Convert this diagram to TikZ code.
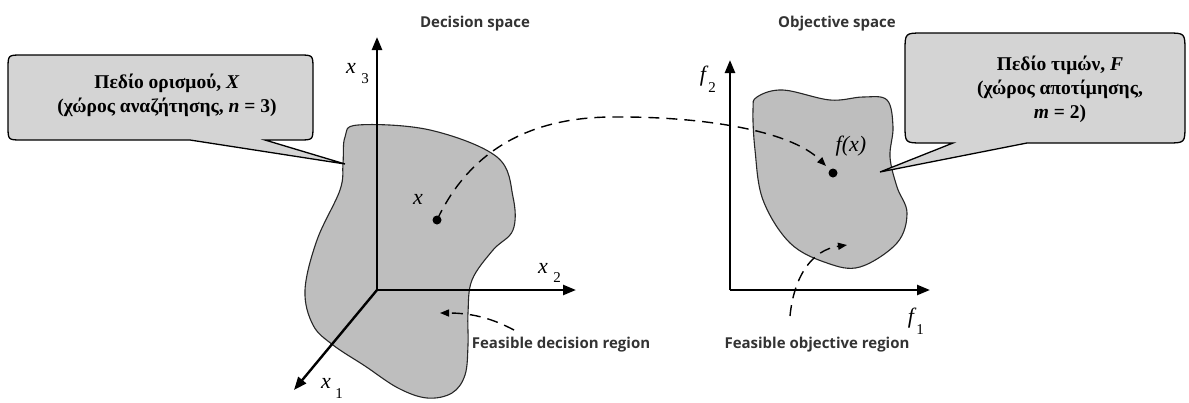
\documentclass[tikz,border=0pt]{standalone}
\usepackage{fontspec}
\setmainfont{Liberation Serif}
\newfontfamily\labfont{Open Sans}
\usetikzlibrary{arrows.meta}
\definecolor{blobgray}{HTML}{BEBEBE}
\definecolor{callgray}{HTML}{D4D4D4}
\definecolor{labgray}{HTML}{333333}
\begin{document}
\begin{tikzpicture}[x=1pt,y=-1pt,
 axis/.style={line width=2.4pt,-{Triangle[length=13pt,width=10pt]}},
 blob/.style={draw=black!85,line width=1.1pt,fill=blobgray},
 callout/.style={draw=black,line width=1.3pt,fill=callgray},
 dashline/.style={line width=1.4pt,dash pattern=on 11pt off 7pt,-{Triangle[length=9pt,width=7pt]}},
 ctext/.style={font=\fontsize{19.5}{24}\selectfont\bfseries,align=center},
 lab/.style={font=\labfont\bfseries\fontsize{15}{17}\selectfont,text=labgray},
 mlab/.style={font=\fontsize{22}{24}\selectfont\itshape,inner sep=0pt},
 sub/.style={font=\fontsize{15}{16}\selectfont,inner sep=0pt}]
\useasboundingbox (0,0) rectangle (1189,402);

% decision region
\draw[blob] plot[smooth cycle,tension=0.6] coordinates {(345,137) (358,125) (430,130) (497,157) (513,197) (513,230) (493,250) (472,280) (468,313) (468,345) (465,375) (452,393) (427,398) (398,388) (365,366) (333,345) (313,325) (305,290) (317,240) (340,190) (343,163)};
% objective region
\draw[blob] plot[smooth cycle,tension=0.6] coordinates {(757,97) (783,90) (830,100) (863,97) (887,100) (893,127) (890,157) (897,187) (907,213) (897,243) (860,267) (827,263) (790,243) (763,200) (755,150) (753,110)};

% decision axes
\coordinate (O1) at (377,290);
\coordinate (X3) at (377,37);
\coordinate (X2) at (576,290);
\coordinate (X1) at (294,390);
\draw[axis] (O1) -- (X3);
\draw[axis] (O1) -- (X2);
\draw[axis] (O1) -- (X1);
\node[mlab] (lx3) at (351,68) {x};
\node[sub] (lx3s) at (365,79) {3};
\node[mlab] (lx2) at (543,268) {x};
\node[sub] (lx2s) at (557,278) {2};
\node[mlab] (lx1) at (326,383) {x};
\node[sub] (lx1s) at (339,394) {1};

% objective axes
\coordinate (O2) at (730,290);
\coordinate (F2) at (730,60);
\coordinate (F1) at (930,290);
\draw[axis] (O2) -- (F2);
\draw[axis] (O2) -- (F1);
\node[mlab] (lf2) at (703,76) {f};
\node[sub] (lf2s) at (712,88) {2};
\node[mlab] (lf1) at (911,318) {f};
\node[sub] (lf1s) at (920,330) {1};

% points
\coordinate (xpt) at (437,220);
\coordinate (fxpt) at (833,173);
\fill (xpt) circle (4.5pt);
\fill (fxpt) circle (4.5pt);
\node[mlab] (lx) at (418,199) {x};
\node[mlab] (lfx) at (851,146) {f(x)};

% mapping curve
\coordinate (fxend) at (826,166);
\draw[dashline] (xpt) .. controls (470,150) and (530,118) .. (610,117) .. controls (700,116) and (790,130) .. (fxend);

% region pointers
\coordinate (dstart) at (514,330);
\coordinate (dend) at (440,313);
\draw[dashline] (dstart) .. controls (495,320) and (475,313) .. (dend);
\coordinate (ostart) at (790,316);
\coordinate (oend) at (847,245);
\draw[dashline] (ostart) .. controls (794,276) and (812,250) .. (oend);

% labels
\node[lab] (ds) at (475,24) {Decision space};
\node[lab] (os) at (837,24) {Objective space};
\node[lab] (fdr) at (561,345) {Feasible decision region};
\node[lab] (for) at (817,345) {Feasible objective region};

% left callout
\draw[callout] (190,140) -- (345,164) -- (265,140) -- (299,140) .. controls (313,140) .. (313,126) -- (313,69) .. controls (313,55) .. (299,55) -- (22,55) .. controls (8,55) .. (8,69) -- (8,126) .. controls (8,140) .. (22,140) -- cycle;
\node[ctext] (ldef) at (167,95) {Πεδίο ορισμού, \textit{X}\\(χώρος αναζήτησης, \textit{n} = 3)};

% right callout
\draw[callout] (953,143) -- (880,172) -- (1027,143) -- (1167,143) .. controls (1185,143) .. (1185,125) -- (1185,51) .. controls (1185,33) .. (1167,33) -- (923,33) .. controls (905,33) .. (905,51) -- (905,125) .. controls (905,143) .. (923,143) -- cycle;
\node[ctext] (rdef) at (1060,89) {Πεδίο τιμών, \textit{F}\\(χώρος αποτίμησης,\\\textit{m} = 2)};
\end{tikzpicture}
\end{document}
